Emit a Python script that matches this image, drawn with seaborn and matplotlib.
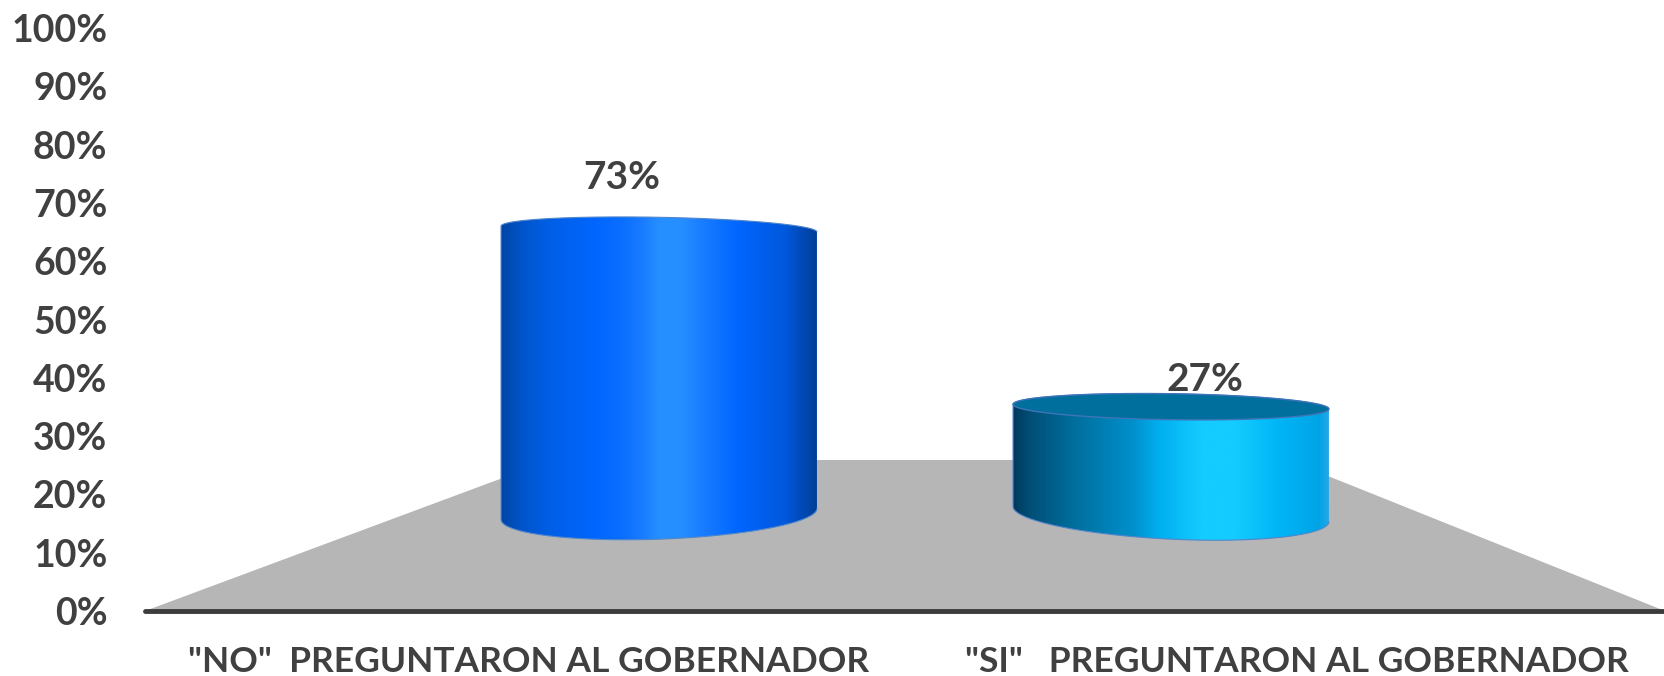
import numpy as np
import pandas as pd
import matplotlib
matplotlib.use('Agg')
import matplotlib.pyplot as plt
from matplotlib.colors import LinearSegmentedColormap
from matplotlib.patches import PathPatch, Polygon
from matplotlib.path import Path
import seaborn as sns

categories = ['"NO"  PREGUNTARON AL GOBERNADOR', '"SI"   PREGUNTARON AL GOBERNADOR']
values = [73, 27]
value_labels = ['73%', '27%']
y_ticks = [0, 10, 20, 30, 40, 50, 60, 70, 80, 90, 100]
y_tick_labels = ['0%', '10%', '20%', '30%', '40%', '50%', '60%', '70%', '80%', '90%', '100%']

W, H = 1665, 676
TEXT = '#404040'

sns.set_style('white')
plt.rcParams['font.family'] = ['Lato', 'DejaVu Sans']

fig = plt.figure(figsize=(W / 100, H / 100), dpi=100, facecolor='white')

# flat axis with the ticks and the grey floor
ax = fig.add_axes([145 / W, (H - 611) / H, 1520 / W, 583 / H], zorder=1)
ax.set_xlim(-0.5, 1.5)
ax.set_ylim(0, 100)
ax.set_yticks(y_ticks)
ax.set_yticklabels(y_tick_labels, fontsize=27, fontweight='bold', color=TEXT)
ax.set_xticks([0.005, 1.016])
ax.set_xticklabels(categories, fontsize=25.5, fontweight='bold', color=TEXT)
ax.tick_params(axis='y', length=0, pad=27)
ax.tick_params(axis='x', length=0, pad=25)
for side in ['top', 'left', 'right']:
    ax.spines[side].set_visible(False)
ax.spines['bottom'].set_linewidth(3.5)
ax.spines['bottom'].set_color('#3c3c3c')
ax.spines['bottom'].set_capstyle('round')

floor_px = [(145, 611), (551, 460), (1288, 460), (1665, 611)]
floor = [((x - 145) / 1520, (611 - y) / 583) for x, y in floor_px]
ax.add_patch(Polygon(floor, closed=True, transform=ax.transAxes, facecolor='#b6b6b6',
                     edgecolor='none', zorder=1, clip_on=False))

# the cylinders get their own box, the 3D effect squeezes the value scale
# 3.93 px per percent, value 0 sits at y=514, box runs a bit lower for the round base
ax3d = fig.add_axes([403 / W, (H - 514 - 39.3) / H, 1024 / W, 432.3 / H], zorder=2)
df = pd.DataFrame({'category': categories, 'value': values})
sns.barplot(data=df, x='category', y='value', width=0.617, ax=ax3d)

stops = [
    [(0, '#0045a5'), (0.06, '#0054c8'), (0.15, '#005fe6'), (0.3, '#0066ff'), (0.38, '#0a6eff'),
     (0.45, '#1a7cff'), (0.5, '#268fff'), (0.57, '#268fff'), (0.64, '#1a7cff'), (0.75, '#0066ff'),
     (0.9, '#0058dc'), (0.97, '#0046ac'), (1, '#003f98')],
    [(0, '#003a5c'), (0.05, '#004e76'), (0.2, '#00709e'), (0.38, '#0090cc'), (0.46, '#00aeef'),
     (0.6, '#14ccff'), (0.7, '#14ccff'), (0.85, '#00b4f5'), (0.97, '#00a4e6'), (1, '#25a8e8')],
]
top_fill = [None, '#006f9e']
top_tilt = [0.75, 0.6]
top_lift = [-0.5, 0.3]
bottom_tilt = [-1.4, 1.9]
label_offset = [(-37, 50), (34, 28)]
top_b = [3.0, 3.3]
bottom_b = 6.4

t_top = np.linspace(0, np.pi, 80)
t_bot = np.linspace(np.pi, 2 * np.pi, 80)
grad = np.linspace(0, 1, 512).reshape(1, -1)

for i, bar in enumerate(ax3d.patches):
    cx = bar.get_x() + bar.get_width() / 2
    hw = bar.get_width() / 2
    v = bar.get_height()
    bar.set_visible(False)
    cy = v + top_lift[i]

    xs = np.r_[cx + hw * np.cos(t_top), cx + hw * np.cos(t_bot)]
    ys = np.r_[cy + top_b[i] * np.sin(t_top) - top_tilt[i] * np.cos(t_top),
               bottom_b * np.sin(t_bot) - bottom_tilt[i] * np.cos(t_bot)]
    outline = Path(np.c_[xs, ys])
    ax3d.add_patch(PathPatch(outline, facecolor='none', edgecolor='#4f86cc', lw=0.8, zorder=3))

    cmap = LinearSegmentedColormap.from_list('cyl%d' % i, stops[i])
    img = ax3d.imshow(grad, cmap=cmap, aspect='auto', zorder=2, interpolation='bilinear',
                      extent=(cx - hw, cx + hw, -10, v + 6))
    img.set_clip_path(PathPatch(outline, transform=ax3d.transData))

    if top_fill[i]:
        tt = np.linspace(0, 2 * np.pi, 160)
        ax3d.add_patch(Polygon(np.c_[cx + hw * np.cos(tt),
                                     cy + top_b[i] * np.sin(tt) - top_tilt[i] * np.cos(tt)],
                               closed=True, facecolor=top_fill[i], edgecolor='#3f74b8',
                               lw=1, zorder=4))

    ax3d.annotate(value_labels[i], xy=(cx, v), xytext=label_offset[i],
                  textcoords='offset pixels', ha='center', va='center', fontsize=28,
                  fontweight='bold', color=TEXT, zorder=5, annotation_clip=False)

ax3d.set_xlim(-0.5, 1.5)
ax3d.set_ylim(-10, 100)
ax3d.axis('off')

fig.savefig('out.png', dpi=100, facecolor='white')
